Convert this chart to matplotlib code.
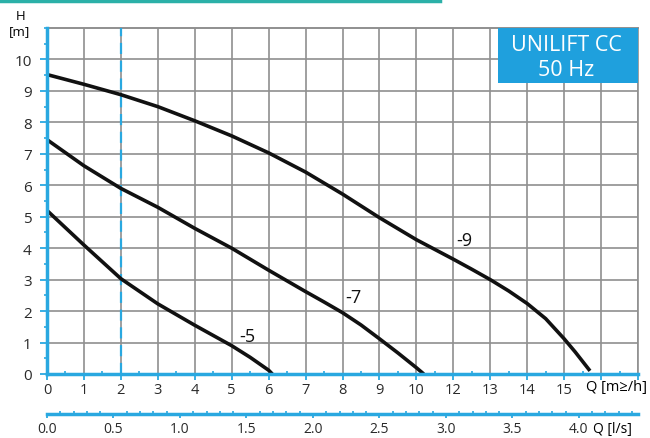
import matplotlib
matplotlib.use("Agg")
import matplotlib.pyplot as plt
from matplotlib.lines import Line2D
from matplotlib.patches import Rectangle
from matplotlib.ticker import MultipleLocator, FixedLocator

# pump curves (Q position in m3/h grid units, H in m)
q9 = [0, 1, 2, 3, 4, 5, 6, 7, 8, 9, 10, 11, 11.5, 12, 12.5, 13, 13.5, 14, 14.3, 14.5, 14.7]
h9 = [9.52, 9.21, 8.88, 8.5, 8.05, 7.57, 7.03, 6.42, 5.72, 4.97, 4.27, 3.65, 3.33, 3.0,
      2.64, 2.24, 1.76, 1.12, 0.7, 0.4, 0.1]
q7 = [0, 1, 2, 3, 4, 5, 6, 7, 7.5, 8, 8.5, 9, 9.5, 10, 10.2]
h7 = [7.45, 6.62, 5.9, 5.3, 4.63, 4.0, 3.3, 2.62, 2.29, 1.95, 1.56, 1.12, 0.67, 0.2, 0]
q5 = [0, 1, 2, 3, 4, 5, 5.5, 6, 6.1]
h5 = [5.2, 4.1, 3.03, 2.23, 1.55, 0.9, 0.53, 0.12, 0]

curve_labels = ["-9", "-7", "-5"]
label_pos = [(11.3, 4.25), (8.3, 2.45), (5.43, 1.22)]

# x tick labels exactly as printed on the sheet
x_ticklabels = ["0", "1", "2", "3", "4", "5", "6", "7", "8", "9", "10",
                "12", "13", "14", "15", "", ""]

blue = "#29a8e0"
grey = "#8f8f8f"
fam = ["Open Sans", "DejaVu Sans"]
plt.rcParams["font.family"] = fam

fig = plt.figure(figsize=(6.5, 4.39), dpi=100)
ax = fig.add_axes([47 / 650, 1 - 375 / 439, (638 - 47) / 650, (375 - 29) / 439])

ax.set_xlim(0, 16)
ax.set_ylim(0, 11)
ax.set_xticks(range(17))
ax.set_xticklabels(x_ticklabels)
ax.xaxis.set_minor_locator(MultipleLocator(0.5))
ax.set_yticks(range(11))
ax.yaxis.set_minor_locator(MultipleLocator(0.5))
ax.grid(True, which="major", color=grey, lw=1.2)
ax.set_axisbelow(True)
# grid line at top (11) isn't a tick, so draw it
ax.axhline(11, color=grey, lw=1.2, clip_on=False)

for s in ["top", "right"]:
    ax.spines[s].set_color(grey)
    ax.spines[s].set_linewidth(1.2)
for s in ["left", "bottom"]:
    ax.spines[s].set_color(blue)
    ax.spines[s].set_linewidth(2.5)
    ax.spines[s].set_zorder(5)

ax.tick_params(axis="x", which="major", direction="out", length=4.5, width=1.3,
               color=blue, labelsize=10.5, pad=1.5, labelcolor="#2a2a2a")
ax.tick_params(axis="x", which="minor", direction="in", length=2.5, width=1.2, color=blue)
ax.tick_params(axis="y", which="major", direction="out", length=5, width=1.3,
               color=blue, labelsize=11, pad=6, labelcolor="#2a2a2a")
ax.tick_params(axis="y", which="minor", direction="out", length=2.2, width=1.2, color=blue)

ax.axvline(2, color=blue, lw=1.6, ls=(0, (5, 3)), zorder=3)

for q, h in [(q9, h9), (q7, h7), (q5, h5)]:
    ax.plot(q, h, color="#111111", lw=2.6, solid_capstyle="butt",
            solid_joinstyle="round", zorder=4)
for txt, (x, y) in zip(curve_labels, label_pos):
    ax.text(x, y, txt, fontsize=13, ha="center", va="center", color="#111111")

# title box
ax.add_patch(Rectangle((12.2, 9.24), 16 - 12.2, 11 - 9.24, facecolor="#1fa0dd",
                       edgecolor="none", zorder=6, clip_on=False))
ax.text(14.05, 10.48, "UNILIFT CC", color="white", fontsize=15.5, ha="center",
        va="center", zorder=7)
ax.text(14.05, 9.68, "50 Hz", color="white", fontsize=15.5, ha="center",
        va="center", zorder=7)

# second flow axis in l/s
sec = ax.secondary_xaxis(-0.1156, functions=(lambda x: x / 3.6, lambda x: x * 3.6))
sec.spines["bottom"].set_color(blue)
sec.spines["bottom"].set_linewidth(2.5)
sec.xaxis.set_major_locator(FixedLocator([0, 0.5, 1, 1.5, 2, 2.5, 3, 3.5, 4]))
sec.xaxis.set_minor_locator(MultipleLocator(0.1))
sec.set_xticklabels(["0.0", "0.5", "1.0", "1.5", "2.0", "2.5", "3.0", "3.5", "4.0"])
sec.tick_params(axis="x", which="major", direction="out", length=3, width=1.3,
                color=blue, labelsize=10, pad=2, labelcolor="#2a2a2a")
sec.tick_params(axis="x", which="minor", direction="in", length=2.5, width=1.2, color=blue)

# axis titles
fig.text(21 / 650, 1 - 17 / 439, "H", fontsize=9.5, ha="center", va="center")
fig.text(20 / 650, 1 - 32 / 439, "[m]", fontsize=9.5, ha="center", va="center")
fig.text(586 / 650, 1 - 388 / 439, "Q [m≥/h]", fontsize=10.5, ha="left", va="center",
         family=fam)
fig.text(593 / 650, 1 - 430 / 439, "Q [l/s]", fontsize=10, ha="left", va="center")

# teal rule at the top of the sheet
fig.add_artist(Line2D([0, 440 / 650], [1 - 1.5 / 439, 1 - 1.5 / 439],
                      color="#2bb0a8", lw=2.5))

fig.savefig("out.png", dpi=100)
